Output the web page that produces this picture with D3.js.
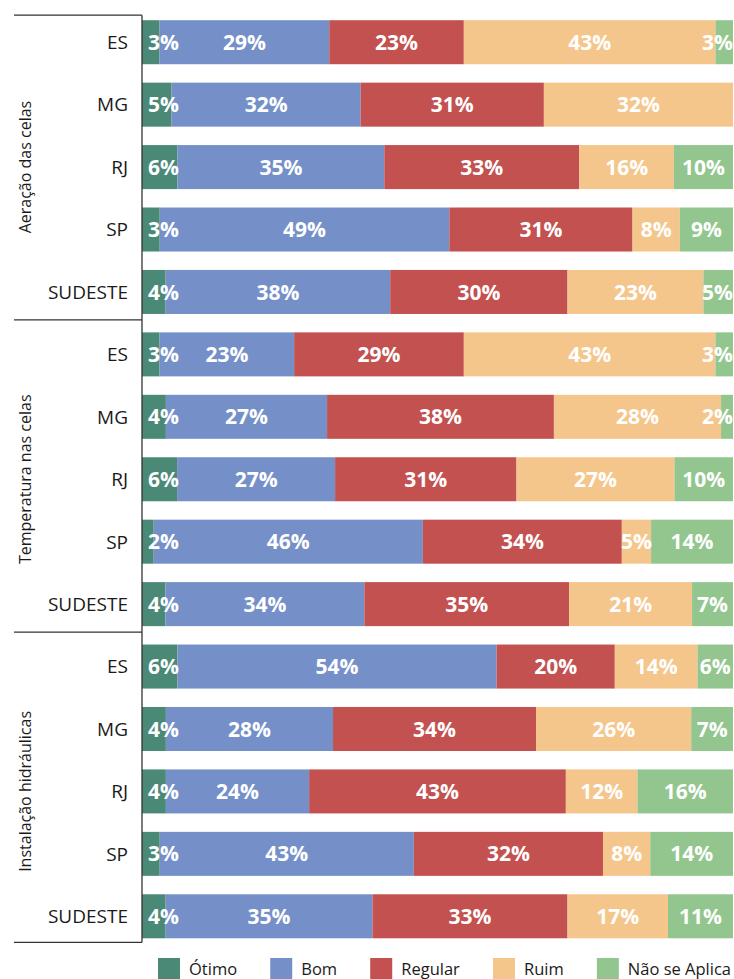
<!DOCTYPE html>
<html>
<head>
<meta charset="utf-8">
<script src="https://cdn.jsdelivr.net/npm/d3@7"></script>
<style>
  html, body { margin: 0; padding: 0; background: #fff; }
  svg { display: block; font-family: "Open Sans", "DejaVu Sans", sans-serif; }
</style>
</head>
<body>
<svg id="chart" width="734" height="979"></svg>
<script>
// Avaliação das condições das celas por estado (percentuais)
const groups = ["Aeração das celas", "Temperatura nas celas", "Instalação hidráulicas"];
const states = ["ES", "MG", "RJ", "SP", "SUDESTE"];
const levels = ["Ótimo", "Bom", "Regular", "Ruim", "Não se Aplica"];
const levelColors = ["#4b8977", "#7590c9", "#c25150", "#f5c68b", "#92c68e"];

const aeracao     = [[3, 29, 23, 43, 3], [5, 32, 31, 32, 0], [6, 35, 33, 16, 10], [3, 49, 31, 8, 9], [4, 38, 30, 23, 5]];
const temperatura = [[3, 23, 29, 43, 3], [4, 27, 38, 28, 2], [6, 27, 31, 27, 10], [2, 46, 34, 5, 14], [4, 34, 35, 21, 7]];
const hidraulica  = [[6, 54, 20, 14, 6], [4, 28, 34, 26, 7], [4, 24, 43, 12, 16], [3, 43, 32, 8, 14], [4, 35, 33, 17, 11]];
const groupValues = [aeracao, temperatura, hidraulica];

// Flatten into one row per bar
const rows = [];
groups.forEach((g, gi) => {
  states.forEach((s, si) => {
    const r = { key: gi + "|" + s, group: g, gi, state: s };
    levels.forEach((l, li) => { r[l] = groupValues[gi][si][li]; });
    rows.push(r);
  });
});

const svg = d3.select("#chart");
const x0 = 142, x1 = 733;

const x = d3.scaleLinear().domain([0, 1]).range([x0, x1]);
const y = d3.scaleBand()
  .domain(rows.map(r => r.key))
  .range([11, 947.5])
  .paddingInner(0.295)
  .paddingOuter(0.1475);
const color = d3.scaleOrdinal().domain(levels).range(levelColors);

const stack = d3.stack().keys(levels).offset(d3.stackOffsetExpand);
const series = stack(rows);

// Bars
const layers = svg.append("g").selectAll("g")
  .data(series)
  .join("g")
  .attr("fill", d => color(d.key));

layers.selectAll("rect")
  .data(d => d.map(p => ({ p, level: d.key })))
  .join("rect")
  .attr("x", d => x(d.p[0]))
  .attr("y", d => y(d.p.data.key))
  .attr("width", d => Math.max(0, x(d.p[1]) - x(d.p[0])))
  .attr("height", y.bandwidth());

// Value labels, kept inside the bar at both ends
const labelG = svg.append("g")
  .attr("fill", "#fff")
  .attr("font-size", 21)
  .attr("font-weight", 700);

series.forEach(s => {
  s.forEach(p => {
    const v = p.data[s.key];
    if (!v) return;
    const t = labelG.append("text")
      .attr("y", y(p.data.key) + y.bandwidth() / 2)
      .attr("dy", "0.36em")
      .attr("text-anchor", "middle")
      .text(v + "%");
    const w = t.node().getComputedTextLength();
    let cx = (x(p[0]) + x(p[1])) / 2;
    cx = Math.max(cx, x0 + w / 2 + 6);
    cx = Math.min(cx, x1 - w / 2);
    t.attr("x", cx);
  });
});

// Left axis: state labels
const axisG = svg.append("g")
  .attr("fill", "#1a1a1a")
  .attr("font-size", 19);
rows.forEach(r => {
  axisG.append("text")
    .attr("x", 128)
    .attr("y", y(r.key) + y.bandwidth() / 2)
    .attr("dy", "0.36em")
    .attr("text-anchor", "end")
    .text(r.state);
});

// Group frame lines
const lineColor = "#333";
const firstKey = gi => gi + "|" + states[0];
const lastKey = gi => gi + "|" + states[states.length - 1];
const groupTop = gi => y(firstKey(gi)) - 5;
const groupBottom = gi => y(lastKey(gi)) + y.bandwidth() + 6;

svg.append("line")
  .attr("x1", x0).attr("x2", x0)
  .attr("y1", groupTop(0)).attr("y2", groupBottom(groups.length - 1) - 2)
  .attr("stroke", lineColor).attr("stroke-width", 1.3);

const sepYs = [groupTop(0)].concat(groups.map((g, gi) => gi === groups.length - 1 ? groupBottom(gi) - 2 : groupBottom(gi)));
svg.append("g").selectAll("line")
  .data(sepYs)
  .join("line")
  .attr("x1", 14).attr("x2", x0)
  .attr("y1", d => d).attr("y2", d => d)
  .attr("stroke", lineColor).attr("stroke-width", 1.3);

// Group titles (rotated)
groups.forEach((g, gi) => {
  const cy = (y(firstKey(gi)) + y(lastKey(gi)) + y.bandwidth()) / 2;
  svg.append("text")
    .attr("transform", `translate(25,${cy}) rotate(-90)`)
    .attr("text-anchor", "middle")
    .attr("dy", "0.36em")
    .attr("font-size", 16)
    .attr("fill", "#1a1a1a")
    .text(g);
});

// Legend: spread items evenly between a fixed left and right edge
const legend = svg.append("g").attr("font-size", 16.5).attr("fill", "#1a1a1a");
const legStart = 158, legEnd = 731, swatch = 22, swGap = 9;
const items = levels.map(l => {
  const rect = legend.append("rect")
    .attr("y", 958)
    .attr("width", swatch).attr("height", 21)
    .attr("fill", color(l));
  const text = legend.append("text").attr("y", 975).text(l);
  return { rect, text, w: text.node().getComputedTextLength() };
});
const used = d3.sum(items, d => swatch + swGap + d.w);
const gap = (legEnd - legStart - used) / (items.length - 1);
let lx = legStart;
items.forEach(d => {
  d.rect.attr("x", lx);
  d.text.attr("x", lx + swatch + swGap);
  lx += swatch + swGap + d.w + gap;
});
</script>
</body>
</html>
